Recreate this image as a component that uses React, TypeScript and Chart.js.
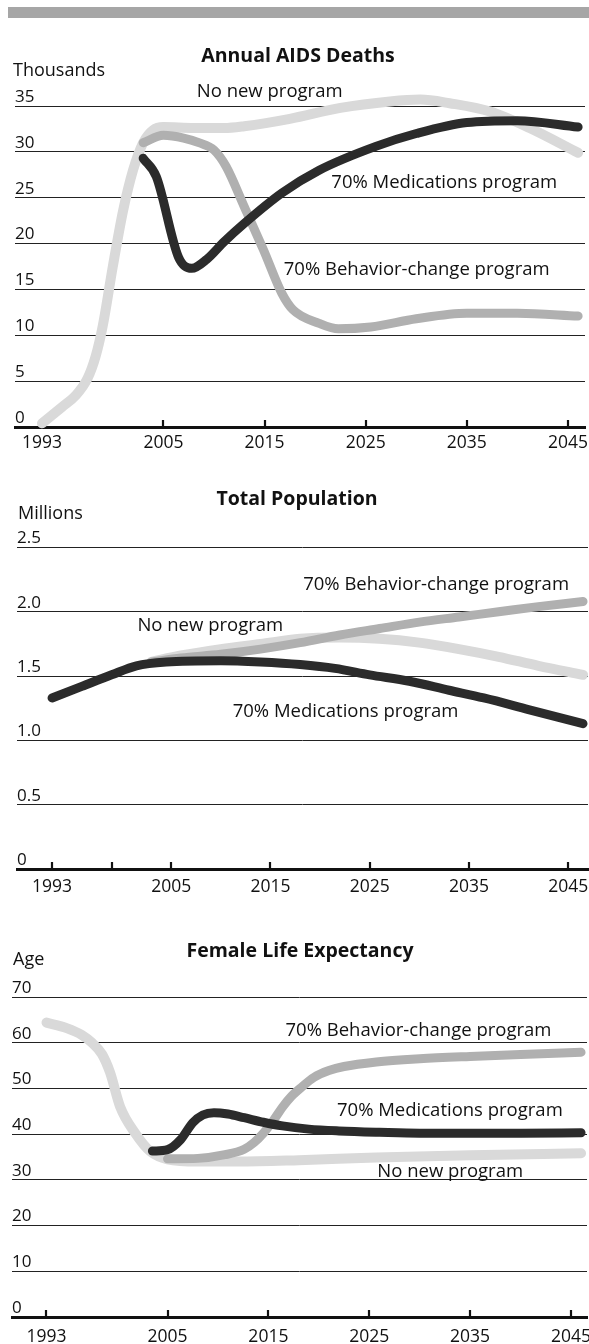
import React, { useEffect, useRef } from 'react';
import { Chart, registerables } from 'chart.js';

Chart.register(...registerables);

const FONT = '"Open Sans", "Noto Sans", sans-serif';
const LIGHT = '#d9d9d9';
const MEDIUM = '#b0b0b0';
const DARK = '#2b2b2b';
const INK = '#111111';

// ---------- Chart 1: Annual AIDS Deaths (thousands) ----------
const deathsNoNewYears = [1993, 1995, 1996.3, 1997.5, 1998.3, 1999, 2000, 2001, 2002, 2003, 2004, 2005, 2008, 2011, 2013, 2017.5, 2022.5, 2027.4, 2030.4, 2033.3, 2037.3, 2041.2, 2046];
const deathsNoNewValues = [0.4, 2.2, 3.4, 5.3, 7.7, 11, 17.5, 23.5, 28, 31, 32.4, 32.7, 32.6, 32.6, 32.8, 33.6, 34.8, 35.5, 35.7, 35.3, 34.4, 32.6, 29.9];
const deathsBehaviorYears = [2003, 2005, 2007, 2008.5, 2010, 2011.2, 2013, 2014.9, 2016.7, 2017.8, 2020.4, 2022.3, 2025.5, 2030, 2035, 2040, 2046];
const deathsBehaviorValues = [31, 31.8, 31.5, 31, 30.2, 28.4, 24, 19.3, 14.6, 12.8, 11.3, 10.7, 10.9, 11.8, 12.4, 12.4, 12.1];
const deathsMedsYears = [2003, 2004.3, 2006.5, 2007.8, 2009.3, 2011, 2013, 2016.7, 2020.4, 2026, 2030, 2035, 2040, 2046];
const deathsMedsValues = [29.3, 27.3, 18.5, 17.3, 18.3, 20.2, 22.2, 25.5, 28, 30.6, 32, 33.2, 33.4, 32.7];

// ---------- Chart 2: Total Population (millions) ----------
const popMedsYears = [1993, 1996, 1999, 2001.5, 2004.5, 2010, 2014, 2018, 2021.5, 2025, 2029, 2033, 2036.5, 2041, 2046.5];
const popMedsValues = [1.33, 1.42, 1.51, 1.58, 1.61, 1.62, 1.61, 1.59, 1.56, 1.51, 1.46, 1.39, 1.33, 1.24, 1.13];
const popNoNewYears = [2003, 2006, 2010, 2014, 2018, 2022, 2026, 2030, 2034, 2038, 2042, 2046.5];
const popNoNewValues = [1.61, 1.66, 1.71, 1.75, 1.79, 1.8, 1.79, 1.76, 1.71, 1.65, 1.58, 1.51];
const popBehaviorYears = [2003, 2006, 2010, 2014, 2018, 2022, 2026, 2030, 2034, 2038, 2042, 2046.5];
const popBehaviorValues = [1.61, 1.64, 1.67, 1.71, 1.76, 1.82, 1.87, 1.92, 1.96, 2.0, 2.04, 2.08];

// ---------- Chart 3: Female Life Expectancy (age) ----------
const lifeNoNewYears = [1993, 1995, 1996.5, 1997.5, 1998.5, 1999.3, 2000.3, 2001.8, 2003.3, 2005, 2008, 2012, 2018, 2025.7, 2035, 2046];
const lifeNoNewValues = [64.4, 63.2, 61.7, 60, 57.5, 53.5, 46, 40.2, 36.2, 34.5, 34.0, 34.0, 34.3, 34.9, 35.4, 35.8];
const lifeMedsYears = [2003.5, 2005, 2006.3, 2007.5, 2008.5, 2009.6, 2011, 2012.6, 2014.5, 2016.4, 2019, 2022, 2026, 2030, 2035, 2040, 2046];
const lifeMedsValues = [36.3, 36.6, 38.8, 42.5, 44.2, 44.7, 44.4, 43.6, 42.6, 41.8, 41.1, 40.7, 40.4, 40.2, 40.2, 40.2, 40.3];
const lifeBehaviorYears = [2005, 2008, 2010.7, 2012.6, 2013.6, 2014.5, 2015.5, 2016.4, 2017.3, 2018.3, 2019.5, 2021, 2022.5, 2025.7, 2030, 2035, 2040, 2046];
const lifeBehaviorValues = [34.6, 34.7, 35.5, 36.7, 38.2, 40.2, 43, 45.9, 48.3, 50.3, 52.4, 53.9, 54.8, 55.8, 56.5, 57, 57.4, 57.9];

// ---------- tick labels ----------
const xTickYears = [1993, 2005, 2015, 2025, 2035, 2045];
const xTickYearsPop = [1993, 1999, 2005, 2015, 2025, 2035, 2045];
const unlabeledYears = [1999];

const SERIES_NO_NEW = 'No new program';
const SERIES_MEDS = '70% Medications program';
const SERIES_BEHAVIOR = '70% Behavior-change program';

type Lbl = { text: string; year: number; value: number };

const decorPlugin = {
  id: 'decor',
  beforeDatasetsDraw(chart: any, _a: any, opts: any) {
    const { ctx, chartArea, scales } = chart;
    const x = scales.x;
    ctx.save();
    ctx.strokeStyle = INK;
    ctx.lineWidth = 2.2;
    x.ticks.forEach((t: any) => {
      const px = Math.round(x.getPixelForValue(t.value));
      ctx.beginPath();
      ctx.moveTo(px, chartArea.bottom);
      ctx.lineTo(px, chartArea.bottom - (opts.tickLen || 7));
      ctx.stroke();
    });
    ctx.restore();
  },
  afterDraw(chart: any, _a: any, opts: any) {
    const { ctx, scales } = chart;
    const x = scales.x;
    const y = scales.y;
    ctx.save();
    ctx.fillStyle = INK;
    ctx.textBaseline = 'middle';
    ctx.textAlign = 'center';
    ctx.font = `bold 19.5px ${FONT}`;
    ctx.fillText(opts.title, opts.titleX, opts.titleY);
    ctx.textAlign = 'left';
    ctx.font = `18px ${FONT}`;
    ctx.fillText(opts.unit, opts.unitX, opts.unitY);
    ctx.font = `18.5px ${FONT}`;
    (opts.labels as Lbl[]).forEach((l) => {
      ctx.fillText(l.text, x.getPixelForValue(l.year), y.getPixelForValue(l.value));
    });
    ctx.restore();
  },
};

function series(years: number[], values: number[], color: string, width: number) {
  return {
    data: years.map((yr, i) => ({ x: yr, y: values[i] })),
    borderColor: color,
    backgroundColor: color,
    borderWidth: width,
    pointRadius: 0,
    cubicInterpolationMode: 'monotone' as const,
    borderCapStyle: 'round' as const,
    borderJoinStyle: 'round' as const,
    fill: false,
    clip: false as any,
  };
}

type PanelSpec = {
  top: number;
  height: number;
  padLeft: number;
  padRight: number;
  padTop: number;
  xAxisHeight: number;
  xMin: number;
  xMax: number;
  yMax: number;
  yStep: number;
  xTicks: number[];
  labelPad: number;
  yFormat: (v: number) => string;
  datasets: any[];
  decor: any;
};

function Panel({ spec }: { spec: PanelSpec }) {
  const ref = useRef<HTMLCanvasElement | null>(null);
  useEffect(() => {
    if (!ref.current) return;
    const chart = new Chart(ref.current, {
      type: 'line',
      data: { datasets: spec.datasets },
      plugins: [decorPlugin as any],
      options: {
        animation: false,
        responsive: false,
        events: [],
        layout: { padding: { left: spec.padLeft, right: spec.padRight, top: spec.padTop, bottom: 0 } },
        plugins: {
          legend: { display: false },
          tooltip: { enabled: false },
          title: { display: false },
          decor: spec.decor,
        } as any,
        scales: {
          x: {
            type: 'linear',
            min: spec.xMin,
            max: spec.xMax,
            afterBuildTicks: (s: any) => {
              s.ticks = spec.xTicks.map((v) => ({ value: v }));
            },
            afterFit: (s: any) => {
              s.height = spec.xAxisHeight;
              s.paddingLeft = 0;
              s.paddingRight = 0;
            },
            ticks: {
              autoSkip: false,
              maxRotation: 0,
              minRotation: 0,
              padding: spec.labelPad,
              color: INK,
              font: { family: FONT, size: 17.5 },
              callback: (v: any) => (unlabeledYears.includes(Number(v)) ? '' : String(v)),
            },
            grid: { display: true, drawOnChartArea: false, drawTicks: false },
            border: { display: true, color: INK, width: 3 },
          },
          y: {
            type: 'linear',
            min: 0,
            max: spec.yMax,
            afterFit: (s: any) => {
              s.width = 0;
              s.paddingTop = 0;
              s.paddingBottom = 0;
            },
            ticks: {
              stepSize: spec.yStep,
              mirror: true,
              padding: 0,
              labelOffset: -9,
              color: INK,
              font: { family: FONT, size: 17 },
              callback: (v: any) => spec.yFormat(Number(v)),
            },
            grid: { color: '#222222', lineWidth: 1, drawTicks: false },
            border: { display: false },
          },
        },
      } as any,
    });
    return () => chart.destroy();
  }, []);
  return (
    <canvas
      ref={ref}
      width={589}
      height={spec.height}
      style={{ position: 'absolute', left: 0, top: spec.top, width: 589, height: spec.height, display: 'block' }}
    />
  );
}

const deathsSpec: PanelSpec = {
  top: 20,
  height: 440,
  padLeft: 15,
  padRight: 4,
  padTop: 86,
  xAxisHeight: 33,
  xMin: 1990.33,
  xMax: 2046.68,
  yMax: 35,
  yStep: 5,
  xTicks: xTickYears,
  labelPad: 6,
  yFormat: (v) => String(v),
  datasets: [
    series(deathsMedsYears, deathsMedsValues, DARK, 9),
    series(deathsBehaviorYears, deathsBehaviorValues, MEDIUM, 9),
    series(deathsNoNewYears, deathsNoNewValues, LIGHT, 10),
  ],
  decor: {
    title: 'Annual AIDS Deaths',
    titleX: 298,
    titleY: 36,
    unit: 'Thousands',
    unitX: 13,
    unitY: 51,
    labels: [
      { text: SERIES_NO_NEW, year: 2008.3, value: 36.6 },
      { text: SERIES_MEDS, year: 2021.6, value: 26.6 },
      { text: SERIES_BEHAVIOR, year: 2016.9, value: 17.1 },
    ],
  },
};

const popSpec: PanelSpec = {
  top: 470,
  height: 440,
  padLeft: 17,
  padRight: 1,
  padTop: 77.5,
  xAxisHeight: 41,
  xMin: 1989.47,
  xMax: 2047.0,
  yMax: 2.5,
  yStep: 0.5,
  xTicks: xTickYearsPop,
  labelPad: 8,
  yFormat: (v) => (v === 0 ? '0' : v.toFixed(1)),
  datasets: [
    series(popMedsYears, popMedsValues, DARK, 9),
    series(popBehaviorYears, popBehaviorValues, MEDIUM, 9),
    series(popNoNewYears, popNoNewValues, LIGHT, 10),
  ],
  decor: {
    title: 'Total Population',
    titleX: 297,
    titleY: 29,
    unit: 'Millions',
    unitX: 18,
    unitY: 43.5,
    labels: [
      { text: SERIES_BEHAVIOR, year: 2018.3, value: 2.21 },
      { text: SERIES_NO_NEW, year: 2001.6, value: 1.89 },
      { text: SERIES_MEDS, year: 2011.2, value: 1.22 },
    ],
  },
};

const lifeSpec: PanelSpec = {
  top: 920,
  height: 424,
  padLeft: 12,
  padRight: 2,
  padTop: 77,
  xAxisHeight: 27,
  xMin: 1989.58,
  xMax: 2046.59,
  yMax: 70,
  yStep: 10,
  xTicks: xTickYears,
  labelPad: 10,
  yFormat: (v) => String(v),
  datasets: [
    series(lifeMedsYears, lifeMedsValues, DARK, 9),
    series(lifeBehaviorYears, lifeBehaviorValues, MEDIUM, 9),
    series(lifeNoNewYears, lifeNoNewValues, LIGHT, 10),
  ],
  decor: {
    title: 'Female Life Expectancy',
    titleX: 300,
    titleY: 31,
    unit: 'Age',
    unitX: 13,
    unitY: 39.5,
    labels: [
      { text: SERIES_BEHAVIOR, year: 2016.7, value: 62.6 },
      { text: SERIES_MEDS, year: 2021.8, value: 45.1 },
      { text: SERIES_NO_NEW, year: 2025.8, value: 31.7 },
    ],
  },
};

export default function App() {
  return (
    <div style={{ position: 'absolute', left: 0, top: 0, width: 589, height: 1344, background: '#ffffff', overflow: 'hidden' }}>
      <div style={{ position: 'absolute', left: 8, top: 7, width: 581, height: 11, background: '#a6a6a6' }} />
      <Panel spec={deathsSpec} />
      <Panel spec={popSpec} />
      <Panel spec={lifeSpec} />
    </div>
  );
}
